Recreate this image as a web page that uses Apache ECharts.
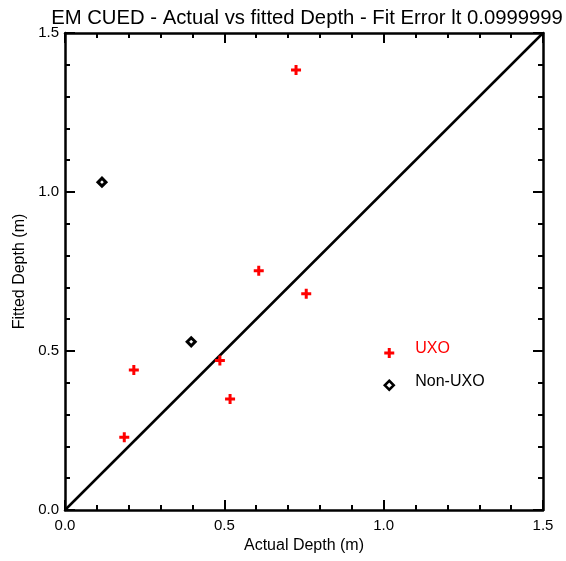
<!DOCTYPE html>
<html>
<head>
<meta charset="utf-8">
<script src="https://cdn.jsdelivr.net/npm/echarts@6/dist/echarts.min.js"></script>
<style>
  html, body { margin: 0; padding: 0; background: #fff; }
  #chart { width: 566px; height: 561px; }
</style>
</head>
<body>
<div id="chart"></div>
<script>
// Actual vs fitted depth (m) for each target
const uxoActual    = [0.725, 0.608, 0.757, 0.216, 0.486, 0.518, 0.186];
const uxoFitted    = [1.384, 0.752, 0.680, 0.440, 0.470, 0.349, 0.229];
const nonUxoActual = [0.116, 0.396];
const nonUxoFitted = [1.031, 0.529];
// One-to-one reference line
const refLine = [[0, 0], [1.5, 1.5]];

const FONT = '"Liberation Sans", Arial, Helvetica, sans-serif';
const CROSS = 'path://M3.5,0H6.5V3.5H10V6.5H6.5V10H3.5V6.5H0V3.5H3.5Z';
// Legend keys sit a little below the centre of their text line:
// the leading move-to points pad the icon box so the glyph lands low.
const KEY_CROSS = 'path://M0,0M10,18M3.5,8H6.5V11.5H10V14.5H6.5V18H3.5V14.5H0V11.5H3.5Z';
const KEY_DIAMOND = 'path://M0,0M10,18M5,8.5L9.5,13L5,17.5L0.5,13Z';

const chart = echarts.init(document.getElementById('chart'), null, { renderer: 'canvas' });

const tickAxis = (extra) => Object.assign({
  type: 'value', min: 0, max: 1.5, interval: 0.5,
  axisLine: { show: true, onZero: false, lineStyle: { color: '#000', width: 2.5 } },
  axisTick: { show: true, inside: true, length: 10, lineStyle: { color: '#000', width: 2 } },
  minorTick: { show: true, splitNumber: 5, length: 5, lineStyle: { color: '#000', width: 2 } },
  splitLine: { show: false },
  minorSplitLine: { show: false }
}, extra);

chart.setOption({
  animation: false,
  backgroundColor: '#fff',
  title: {
    text: 'EM CUED - Actual vs fitted Depth - Fit Error lt 0.0999999',
    left: 302, textAlign: 'center', top: 3,
    textStyle: { fontFamily: FONT, fontSize: 20.3, fontWeight: 'normal', color: '#000' }
  },
  grid: { left: 65, right: 23, top: 33, bottom: 51 },
  legend: {
    orient: 'vertical', left: 378, top: 335, itemGap: 13,
    itemWidth: 10, itemHeight: 18,
    textStyle: { fontFamily: FONT, fontSize: 16, padding: [0, 0, 0, 16] },
    itemStyle: { borderWidth: 'inherit' },
    data: [
      { name: 'UXO', icon: KEY_CROSS, textStyle: { color: '#ff0000' } },
      { name: 'Non-UXO', icon: KEY_DIAMOND, textStyle: { color: '#000' },
        itemStyle: { color: '#fff', borderColor: '#000', borderWidth: 2.5 } }
    ]
  },
  xAxis: [
    tickAxis({
      position: 'bottom',
      name: 'Actual Depth (m)', nameLocation: 'middle', nameGap: 27,
      nameTextStyle: { fontFamily: FONT, fontSize: 16, color: '#000' },
      axisLabel: { show: true, margin: 8, color: '#000', fontFamily: FONT, fontSize: 15,
                   formatter: v => v.toFixed(1) }
    }),
    tickAxis({ position: 'top', axisLabel: { show: false } })
  ],
  yAxis: [
    tickAxis({
      position: 'left',
      name: 'Fitted Depth (m)', nameLocation: 'middle', nameGap: 36,
      nameTextStyle: { fontFamily: FONT, fontSize: 16, color: '#000' },
      axisLabel: { show: true, margin: 6, color: '#000', fontFamily: FONT, fontSize: 15,
                   formatter: v => v.toFixed(1) }
    }),
    tickAxis({ position: 'right', axisLabel: { show: false } })
  ],
  series: [
    {
      type: 'line', data: refLine, xAxisIndex: 0, yAxisIndex: 0,
      symbol: 'none', lineStyle: { color: '#000', width: 2.5 }, silent: true, z: 2
    },
    {
      name: 'UXO', type: 'scatter', xAxisIndex: 0, yAxisIndex: 0,
      data: uxoActual.map((x, i) => [x, uxoFitted[i]]),
      symbol: CROSS, symbolSize: 10,
      itemStyle: { color: '#ff0000', opacity: 1 }, z: 3
    },
    {
      name: 'Non-UXO', type: 'scatter', xAxisIndex: 0, yAxisIndex: 0,
      data: nonUxoActual.map((x, i) => [x, nonUxoFitted[i]]),
      symbol: 'diamond', symbolSize: [8, 8],
      itemStyle: { color: '#fff', borderColor: '#000', borderWidth: 3, opacity: 1 }, z: 3
    }
  ]
});
</script>
</body>
</html>
